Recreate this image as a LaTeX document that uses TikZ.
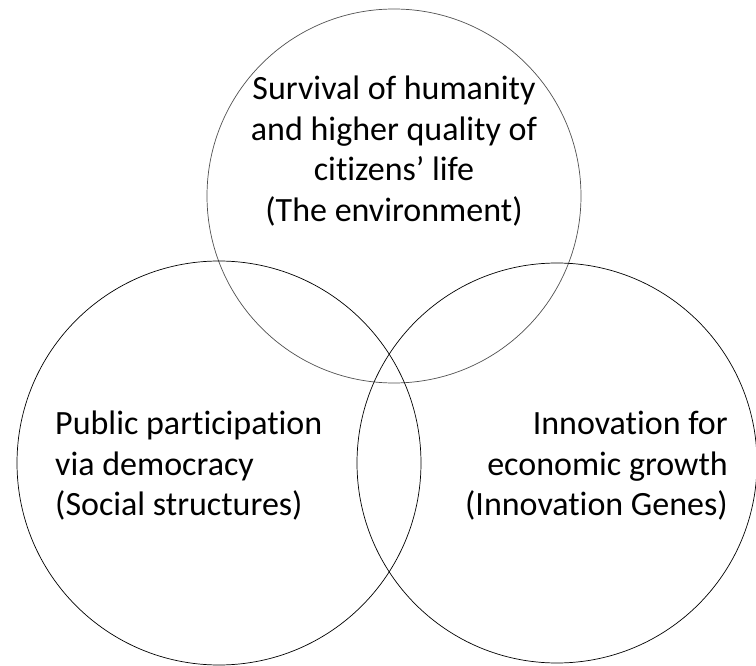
\documentclass[tikz,border=0pt]{standalone}
\usepackage{fontspec}
\setmainfont[Ligatures=NoCommon]{Carlito}
\usepackage{xcolor}
\usepackage{tikz}
\usetikzlibrary{positioning}
\definecolor{ringGray}{HTML}{505050}

\begin{document}
\begin{tikzpicture}[x=1pt,y=-1pt,font=\fontsize{34}{40.5}\selectfont,
  ring/.style={circle,draw,line width=0.7pt,inner sep=0pt},
  label/.style={inner sep=0pt}]
\useasboundingbox (0,0) rectangle (756,666);
% the three spheres
\node[ring,draw=ringGray,minimum size=374] (env) at (394,196) {};
\node[ring,minimum size=404] (soc) at (219,463) {};
\node[ring,minimum size=400] (inn) at (557,463) {};
% texts inside
\node[label,align=center] (envtxt) at (394,151) {Survival of humanity\\and higher quality of\\citizens’ life\\ (The environment)};
\node[label,align=left,anchor=west] (soctxt) at (55,466) {Public participation\\via democracy\\(Social structures)};
\node[label,align=right,anchor=east] (inntxt) at (728,466) {Innovation for\\economic growth\\(Innovation Genes)};
\end{tikzpicture}
\end{document}
